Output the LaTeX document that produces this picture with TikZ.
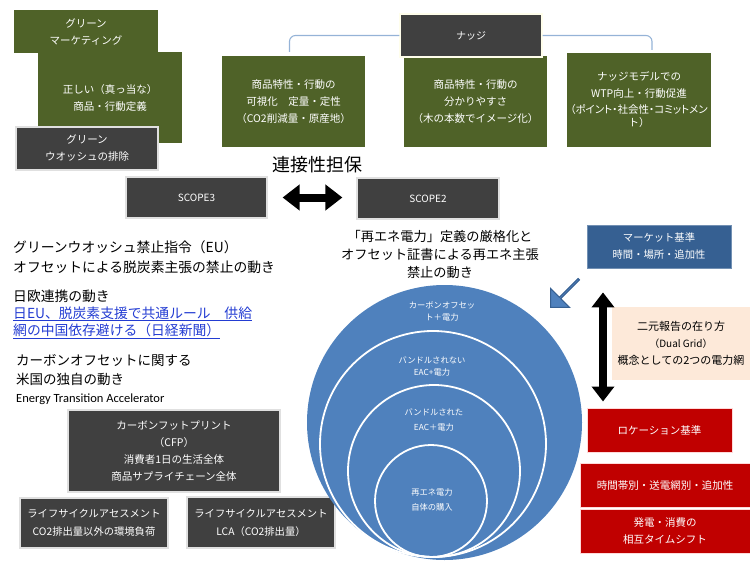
\documentclass[tikz,border=0pt]{standalone}
\usepackage{fontspec}
\setmainfont{Noto Sans CJK JP}
\newfontfamily\jpprop{Noto Sans CJK JP}[RawFeature=+palt]
\newfontfamily\latinfont{Carlito}
\usetikzlibrary{shapes.arrows,arrows.meta}
\definecolor{oliva}{RGB}{79,98,40}
\definecolor{grigio}{RGB}{64,64,64}
\definecolor{blumercato}{RGB}{54,96,146}
\definecolor{blucerchio}{RGB}{79,129,189}
\definecolor{rosso}{RGB}{192,0,0}
\definecolor{pesca}{RGB}{253,233,217}
\definecolor{lineanudge}{RGB}{149,179,215}
\definecolor{blulink}{RGB}{35,60,210}
\tikzset{
  casella/.style={inner sep=1pt, align=center, text=white,
    font=\fontsize{10.5}{17}\selectfont},
  verde/.style={casella, fill=oliva},
  scuro/.style={casella, fill=grigio, draw=black!12, line width=1.2pt},
  mercato/.style={casella, fill=blumercato, draw=blumercato!70!white, line width=.8pt},
  rossa/.style={casella, fill=rosso, draw=red!15, line width=1pt},
  testo/.style={inner sep=0pt, align=left, text=black,
    font=\fontsize{13.8}{20}\selectfont},
  cerchiotesto/.style={inner sep=0pt, align=center, text=white,
    font=\fontsize{8.3}{12}\selectfont},
  anello/.style={draw=white, line width=1.8pt},
  staffa/.style={draw=lineanudge, line width=1.1pt, rounded corners=6pt},
  frecciona/.style={line width=8pt,
    {Triangle[width=25pt,length=17pt]}-{Triangle[width=25pt,length=17pt]}},
  puntatore/.style={single arrow, fill=blucerchio, draw=blumercato, line width=1pt,
    minimum height=40pt, minimum width=27pt, single arrow head extend=6.5pt,
    inner sep=0pt}
}

\begin{document}
\begin{tikzpicture}[x=1pt,y=-1pt]
  \useasboundingbox (0,0) rectangle (750,562);

  % --- in alto a sinistra: marketing verde ----------------------------------
  \node[verde, minimum width=144pt, minimum height=43pt] (gm) at (86,31.5)
    {グリーン\\マーケティング};
  \node[verde, minimum width=144pt, minimum height=91pt] (def) at (110,97.5)
    {正しい（真っ当な）\\商品・行動定義};
  \node[scuro, minimum width=142pt, minimum height=43pt] (gw) at (87,148.5)
    {グリーン\\ウオッシュの排除};

  % --- in alto: ナッジ e i suoi tre blocchi ----------------------------------
  \node[verde, minimum width=143pt, minimum height=91pt] (vis) at (293.5,101.5)
    {商品特性・行動の\\可視化\quad 定量・定性\\（CO2削減量・原産地）};
  \node[verde, minimum width=143pt, minimum height=91pt] (easy) at (475.5,101.5)
    {商品特性・行動の\\分かりやすさ\\（木の本数でイメージ化）};
  \node[verde, minimum width=144pt, minimum height=94pt] (wtp) at (639,100)
    {ナッジモデルでの\\WTP向上・行動促進\\[-1pt]{\jpprop（ポイント・社会性・コミットメン}\\[-4pt]ト）};
  \node[scuro, draw=yellow!8!white, font=\fontsize{10}{12}\selectfont, minimum width=142pt, minimum height=43pt] (nudge) at (471,35.5)
    {ナッジ};
  \draw[staffa] (nudge.west) -| ([xshift=-4pt,yshift=4pt]vis.north);
  \draw[staffa] (nudge.east) -| ([xshift=13pt,yshift=3pt]wtp.north);

  % --- SCOPE3 <-> SCOPE2 ---------------------------------------------------
  \node[font=\fontsize{18}{20}\selectfont, inner sep=0pt] (ponte) at (317,165) {連接性担保};
  \node[scuro, font=\fontsize{10}{11}\selectfont, minimum width=141pt, minimum height=41pt] (scope3) at (196.5,197.5) {SCOPE3};
  \node[scuro, font=\fontsize{10}{11}\selectfont, minimum width=142pt, minimum height=41pt] (scope2) at (428,198.5) {SCOPE2};
  \draw[frecciona, shorten <=15pt, shorten >=14pt] (scope3.east) -- (scope3.east -| scope2.west);

  % --- testi a sinistra e al centro -----------------------------------------
  \node[testo, anchor=west] (eu) at (13,257)
    {グリーンウオッシュ禁止指令（EU）\\オフセットによる脱炭素主張の禁止の動き};
  \node[testo, anchor=west, font=\fontsize{13.8}{17}\selectfont] (jpeu) at (13,314)
    {日欧連携の動き\\{\color{blulink}\underline{日EU、脱炭素支援で共通ルール　供給}}\\{\color{blulink}\underline{網の中国依存避ける（日経新聞）}}};
  \node[testo, anchor=west, font=\fontsize{13.5}{18.5}\selectfont] (usa) at (16,380)
    {カーボンオフセットに関する\\米国の独自の動き\\{\latinfont\fontsize{12.5}{14}\selectfont Energy Transition Accelerator}};
  \node[testo, align=center, font=\fontsize{13.2}{18}\selectfont] (rule) at (440,254)
    {「再エネ電力」定義の厳格化と\\オフセット証書による再エネ主張\\禁止の動き};

  % --- in basso a sinistra: CFP e LCA ---------------------------------------
  \node[scuro, font=\fontsize{10.5}{17}\selectfont, minimum width=212pt, minimum height=82pt] (cfp) at (174,451)
    {カーボンフットプリント\\（CFP）\\消費者1日の生活全体\\商品サプライチェーン全体};
  \node[scuro, font=\fontsize{10.3}{18}\selectfont, minimum width=148pt, minimum height=50pt] (lca1) at (94,523)
    {ライフサイクルアセスメント\\CO2排出量以外の環境負荷};
  \node[scuro, font=\fontsize{10.3}{18}\selectfont, minimum width=148pt, minimum height=51pt] (lca2) at (261,522.5)
    {ライフサイクルアセスメント\\LCA（CO2排出量）};

  % --- cerchi annidati ------------------------------------------------------
  \fill[blucerchio] (444.5,422.5) circle[radius=137.5pt];
  \draw[anello] (433,444) circle[radius=113pt];
  \draw[anello] (434,471) circle[radius=86pt];
  \draw[anello] (431,501) circle[radius=56pt];
  \node[cerchiotesto] (c1) at (442,311) {カーボンオフセッ\\ト＋電力};
  \node[cerchiotesto] (c2) at (432,366) {バンドルされない\\EAC+電力};
  \node[cerchiotesto, font=\fontsize{8.3}{15}\selectfont] (c3) at (434,420) {バンドルされた\\EAC＋電力};
  \node[cerchiotesto, font=\fontsize{8.3}{15}\selectfont] (c4) at (432,500) {再エネ電力\\自体の購入};

  % --- a destra: mercato / localizzazione ------------------------------------
  \node[mercato, font=\fontsize{10.3}{17}\selectfont, minimum width=144pt, minimum height=43pt] (market) at (659,246.5)
    {マーケット基準\\時間・場所・追加性};
  \node[casella, fill=pesca, text=black, font=\fontsize{11}{17}\selectfont, minimum width=138pt, minimum height=73pt] (dual) at (681,343.5)
    {二元報告の在り方\\{\fontsize{10}{12}\selectfont（Dual Grid）}\\概念としての2つの電力網};
  \node[rossa, minimum width=145pt, minimum height=44pt] (loc) at (659.5,430) {ロケーション基準};
  \node[rossa, minimum width=170pt, minimum height=44pt] (band) at (665,485) {時間帯別・送電網別・追加性};
  \node[rossa, minimum width=170pt, minimum height=44pt] (shift) at (665,531) {発電・消費の\\相互タイムシフト};
  \draw[frecciona, {Triangle[width=22pt,length=15pt]}-{Triangle[width=22pt,length=15pt]}, shorten <=24pt, shorten >=6pt]
    ([xshift=-56pt]market.south) -- ([xshift=-56.5pt]loc.north);
  \node[puntatore, rotate=225] (ptr) at (565,293) {};

\end{tikzpicture}
\end{document}
